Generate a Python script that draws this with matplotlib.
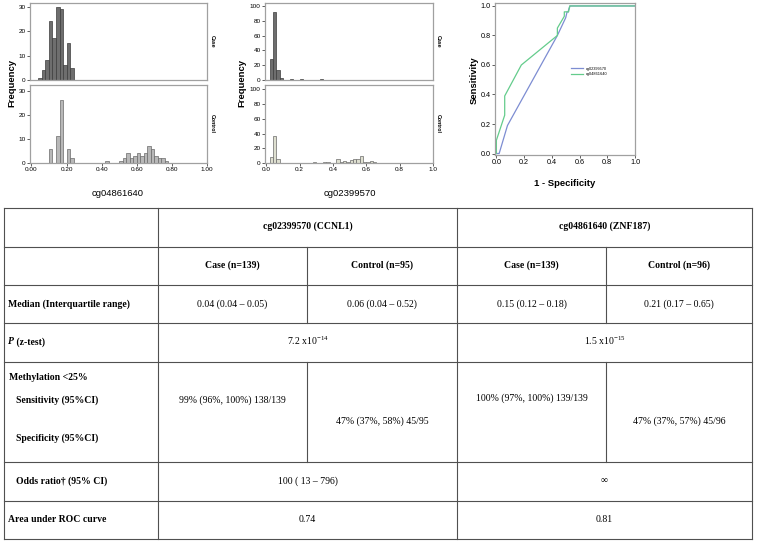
import matplotlib.pyplot as plt

W, H = 758, 541
plt.rcParams['mathtext.fontset'] = 'custom'
plt.rcParams['mathtext.rm'] = 'Liberation Serif'
plt.rcParams['mathtext.it'] = 'Liberation Serif:italic'
plt.rcParams['mathtext.bf'] = 'Liberation Serif:bold'

SANS = ['Liberation Sans', 'DejaVu Sans']
SERIF = ['Liberation Serif', 'DejaVu Serif']

# histogram bins: left edges (bin width 0.02) and frequencies
bin_w = 0.02
zn_case_bins = [0.04, 0.06, 0.08, 0.10, 0.12, 0.14, 0.16, 0.18, 0.20, 0.22]
zn_case_counts = [1, 4, 8, 24, 17, 30, 29, 6, 15, 5]
zn_ctrl_bins = [0.10, 0.14, 0.16, 0.20, 0.22, 0.42,
                0.50, 0.52, 0.54, 0.56, 0.58, 0.60, 0.62,
                0.64, 0.66, 0.68, 0.70, 0.72, 0.74, 0.76]
zn_ctrl_counts = [6, 11, 26, 6, 2, 1,
                  1, 2, 4, 2, 3, 4, 3,
                  4, 7, 6, 3, 2, 2, 1]

cc_case_bins = [0.02, 0.04, 0.06, 0.08, 0.14, 0.20, 0.32]
cc_case_counts = [28, 92, 13, 3, 1, 1, 1]
cc_ctrl_bins = [0.02, 0.04, 0.06, 0.28, 0.34, 0.36, 0.42, 0.44, 0.46,
                0.48, 0.50, 0.52, 0.54, 0.56, 0.58, 0.60, 0.62, 0.64]
cc_ctrl_counts = [8, 37, 5, 1, 1, 2, 5, 2, 3,
                  2, 4, 5, 5, 9, 1, 1, 3, 1]

# ROC curves
roc_cc_fpr = [0.0, 0.02, 0.08, 0.44, 0.50, 0.51, 0.52, 0.52, 0.53, 1.0]
roc_cc_tpr = [0.0, 0.0, 0.19, 0.80, 0.92, 0.96, 0.96, 0.97, 1.0, 1.0]
roc_zn_fpr = [0.0, 0.0, 0.06, 0.06, 0.10, 0.18, 0.44, 0.44, 0.49, 0.49, 0.52, 0.53, 1.0]
roc_zn_tpr = [0.0, 0.09, 0.26, 0.39, 0.46, 0.60, 0.80, 0.85, 0.93, 0.96, 0.96, 1.0, 1.0]
roc_names = ['cg02399570', 'cg04861640']

# table text
row_labels = ['Median (Interquartile range)', 'P', 'Methylation <25%',
              'Sensitivity (95%CI)', 'Specificity (95%CI)',
              'Odds ratio\u2020 (95% CI)', 'Area under ROC curve']
genes = ['cg02399570 (CCNL1)', 'cg04861640 (ZNF187)']
groups = ['Case (n=139)', 'Control (n=95)', 'Case (n=139)', 'Control (n=96)']
medians = ['0.04 (0.04 \u2013 0.05)', '0.06 (0.04 \u2013 0.52)',
           '0.15 (0.12 \u2013 0.18)', '0.21 (0.17 \u2013 0.65)']
pvals = ['7.2 x10$^{-14}$', '1.5 x10$^{-15}$']
sens = ['99% (96%, 100%) 138/139', '100% (97%, 100%) 139/139']
spec = ['47% (37%, 58%) 45/95', '47% (37%, 57%) 45/96']
odds = ['100 ( 13 \u2013 796)', '\u221e']
auc = ['0.74', '0.81']

fig = plt.figure(figsize=(W / 100, H / 100), dpi=100)


def box(x0, y0, x1, y1):
    return fig.add_axes([x0 / W, 1 - y1 / H, (x1 - x0) / W, (y1 - y0) / H])


def style(ax, size=4.6):
    for s in ax.spines.values():
        s.set_color('#a0a0a0')
        s.set_linewidth(0.9)
    ax.tick_params(length=2, width=0.6, color='#444444', labelsize=size, pad=1)
    for t in ax.get_xticklabels() + ax.get_yticklabels():
        t.set_family(SANS)


def panel(b, bins, counts, fc, ec, ylim, yticks, strip, bottom, xticks, xfmt):
    ax = box(*b)
    ax.bar(bins, counts, width=bin_w, align='edge', color=fc, edgecolor=ec, linewidth=0.5)
    ax.set_xlim(-0.008, 1.0)
    ax.set_ylim(*ylim)
    ax.set_yticks(yticks)
    ax.set_xticks(xticks)
    if bottom:
        ax.set_xticklabels([xfmt % v for v in xticks])
    else:
        ax.tick_params(axis='x', bottom=False, labelbottom=False)
    style(ax)
    ax.text(1.015, 0.5, strip, transform=ax.transAxes, rotation=-90, va='center',
            ha='left', fontsize=3.8, fontweight='bold', family=SANS)
    return ax


case_fc, case_ec = '#6e6e6e', '#3c3c3c'
# left histograms
xt1 = [0.0, 0.2, 0.4, 0.6, 0.8, 1.0]
panel((30, 3, 207, 80), zn_case_bins, zn_case_counts, case_fc, case_ec,
      (0, 31.5), [0, 10, 20, 30], 'Case', False, xt1, '%.2f')
panel((30, 85, 207, 163), zn_ctrl_bins, zn_ctrl_counts, '#b8b8b8', '#6a6a6a',
      (0, 32.3), [0, 10, 20, 30], 'Control', True, xt1, '%.2f')
# middle histograms
panel((265, 3, 433, 80), cc_case_bins, cc_case_counts, case_fc, case_ec,
      (0, 104), [0, 20, 40, 60, 80, 100], 'Case', False, xt1, '%.1f')
panel((265, 85, 433, 163), cc_ctrl_bins, cc_ctrl_counts, '#dedfd0', '#6a6a6a',
      (0, 106), [0, 20, 40, 60, 80, 100], 'Control', True, xt1, '%.1f')

lab = dict(fontsize=6.8, fontweight='bold', family=SANS, ha='center', va='center')
fig.text(12 / W, 1 - 83 / H, 'Frequency', rotation=90, **lab)
fig.text(242 / W, 1 - 83 / H, 'Frequency', rotation=90, **lab)
fig.text(118 / W, 1 - 193 / H, 'cg04861640', fontsize=6.8, family=SANS, ha='center', va='center')
fig.text(350 / W, 1 - 193 / H, 'cg02399570', fontsize=6.8, family=SANS, ha='center', va='center')

# ROC
ax = box(495, 3, 635, 155)
ax.plot(roc_cc_fpr, roc_cc_tpr, color='#7d8dd2', lw=0.9, label=roc_names[0])
ax.plot(roc_zn_fpr, roc_zn_tpr, color='#64cc8c', lw=0.9, label=roc_names[1])
ax.set_xlim(-0.01, 1.0)
ax.set_ylim(-0.01, 1.02)
ax.set_xticks(xt1)
ax.set_yticks(xt1)
ax.set_xticklabels(['%.1f' % v for v in xt1])
ax.set_yticklabels(['%.1f' % v for v in xt1])
style(ax, 5.2)
ax.legend(loc='center left', bbox_to_anchor=(0.52, 0.55), frameon=False,
          prop={'size': 2.8, 'family': SANS}, handlelength=3, labelspacing=0.3)
fig.text(474 / W, 1 - 80 / H, 'Sensitivity', rotation=90, **lab)
fig.text(565 / W, 1 - 184 / H, '1 - Specificity', **lab)

# table
t = fig.add_axes([0, 0, 1, 1])
t.set_xlim(0, W)
t.set_ylim(H, 0)
t.axis('off')
lc = dict(color='#505050', lw=0.8)
xl, xr = 4, 752
c1, c2, c3, c4 = 158, 307, 457, 606
ys = [208, 247, 285, 323, 362, 462, 501, 539]
for y in ys:
    t.plot([xl, xr], [y, y], **lc)
for x in (xl, c1, c3, xr):
    t.plot([x, x], [ys[0], ys[-1]], **lc)
for x in (c2, c4):
    t.plot([x, x], [ys[1], ys[3]], **lc)
    t.plot([x, x], [ys[4], ys[5]], **lc)

fs = 7
bold = dict(fontsize=fs, fontweight='bold', family=SERIF, va='center')
reg = dict(fontsize=fs, family=SERIF, va='center', ha='center')
mids = [(c1 + c2) / 2, (c2 + c3) / 2, (c3 + c4) / 2, (c4 + xr) / 2]
spans = [(c1 + c3) / 2, (c3 + xr) / 2]

for i in range(2):
    t.text(spans[i], 226, genes[i], ha='center', **bold)
for i in range(4):
    t.text(mids[i], 265, groups[i], ha='center', **bold)
    t.text(mids[i], 304, medians[i], **reg)
t.text(8, 304, row_labels[0], ha='left', **bold)
p = t.text(8, 342, row_labels[1], ha='left', style='italic', **bold)
t.annotate(' (z-test)', xy=(1, 0.5), xycoords=p, ha='left', fontsize=fs,
           fontweight='bold', family=SERIF, va='center')
for i in range(2):
    t.text(spans[i], 341, pvals[i], **reg)
t.text(9, 377, row_labels[2], ha='left', **bold)
t.text(16, 400, row_labels[3], ha='left', **bold)
t.text(16, 438, row_labels[4], ha='left', **bold)
t.text(mids[0], 400, sens[0], **reg)
t.text(mids[2], 398, sens[1], **reg)
t.text(mids[1], 421, spec[0], **reg)
t.text(mids[3], 421, spec[1], **reg)
t.text(16, 481, row_labels[5], ha='left', **bold)
t.text(8, 519, row_labels[6], ha='left', **bold)
for i in range(2):
    t.text(spans[i], 481, odds[i], **reg)
    t.text(spans[i], 519, auc[i], **reg)

fig.savefig('out.png', dpi=100)
